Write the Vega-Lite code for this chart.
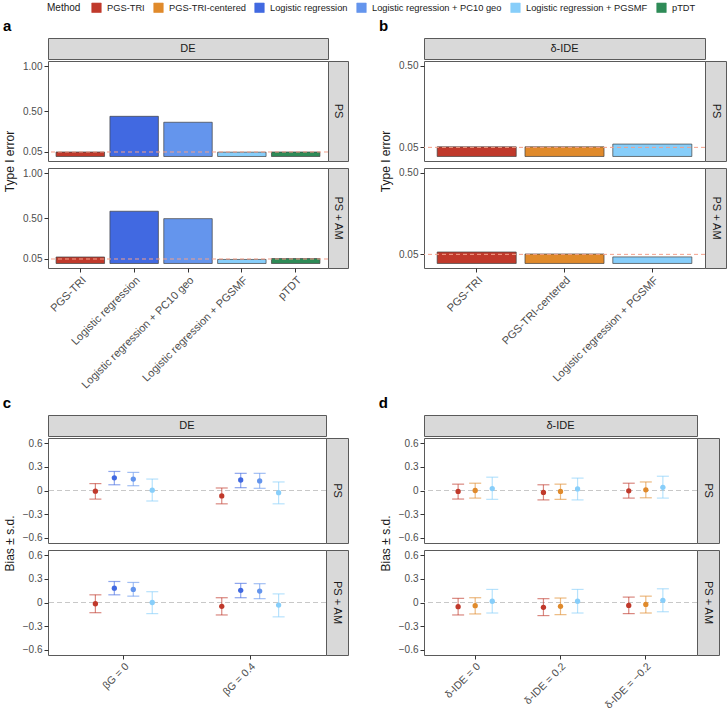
{
  "$schema": "https://vega.github.io/schema/vega-lite/v6.json",
  "padding": {"left": 2, "top": 2, "right": 0, "bottom": 0},
  "datasets": {
    "typeI": [
      {"effect": "DE", "model": "PS", "method": "PGS-TRI", "value": 0.050},
      {"effect": "DE", "model": "PS", "method": "Logistic regression", "value": 0.446},
      {"effect": "DE", "model": "PS", "method": "Logistic regression + PC10 geo", "value": 0.380},
      {"effect": "DE", "model": "PS", "method": "Logistic regression + PGSMF", "value": 0.048},
      {"effect": "DE", "model": "PS", "method": "pTDT", "value": 0.050},
      {"effect": "DE", "model": "PS + AM", "method": "PGS-TRI", "value": 0.072},
      {"effect": "DE", "model": "PS + AM", "method": "Logistic regression", "value": 0.580},
      {"effect": "DE", "model": "PS + AM", "method": "Logistic regression + PC10 geo", "value": 0.498},
      {"effect": "DE", "model": "PS + AM", "method": "Logistic regression + PGSMF", "value": 0.045},
      {"effect": "DE", "model": "PS + AM", "method": "pTDT", "value": 0.055},
      {"effect": "δ-IDE", "model": "PS", "method": "PGS-TRI", "value": 0.053},
      {"effect": "δ-IDE", "model": "PS", "method": "PGS-TRI-centered", "value": 0.053},
      {"effect": "δ-IDE", "model": "PS", "method": "Logistic regression + PGSMF", "value": 0.068},
      {"effect": "δ-IDE", "model": "PS + AM", "method": "PGS-TRI", "value": 0.063},
      {"effect": "δ-IDE", "model": "PS + AM", "method": "PGS-TRI-centered", "value": 0.052},
      {"effect": "δ-IDE", "model": "PS + AM", "method": "Logistic regression + PGSMF", "value": 0.036}
    ],
    "bias": [
      {"effect": "DE", "model": "PS", "setting": "βG = 0", "method": "PGS-TRI", "bias": -0.008, "lo": -0.110, "hi": 0.088},
      {"effect": "DE", "model": "PS", "setting": "βG = 0", "method": "Logistic regression", "bias": 0.162, "lo": 0.073, "hi": 0.243},
      {"effect": "DE", "model": "PS", "setting": "βG = 0", "method": "Logistic regression + PC10 geo", "bias": 0.146, "lo": 0.061, "hi": 0.231},
      {"effect": "DE", "model": "PS", "setting": "βG = 0", "method": "Logistic regression + PGSMF", "bias": 0.004, "lo": -0.134, "hi": 0.146},
      {"effect": "DE", "model": "PS", "setting": "βG = 0.4", "method": "PGS-TRI", "bias": -0.069, "lo": -0.170, "hi": 0.032},
      {"effect": "DE", "model": "PS", "setting": "βG = 0.4", "method": "Logistic regression", "bias": 0.134, "lo": 0.036, "hi": 0.219},
      {"effect": "DE", "model": "PS", "setting": "βG = 0.4", "method": "Logistic regression + PC10 geo", "bias": 0.122, "lo": 0.028, "hi": 0.219},
      {"effect": "DE", "model": "PS", "setting": "βG = 0.4", "method": "Logistic regression + PGSMF", "bias": -0.028, "lo": -0.170, "hi": 0.109},
      {"effect": "DE", "model": "PS + AM", "setting": "βG = 0", "method": "PGS-TRI", "bias": -0.016, "lo": -0.130, "hi": 0.098},
      {"effect": "DE", "model": "PS + AM", "setting": "βG = 0", "method": "Logistic regression", "bias": 0.183, "lo": 0.098, "hi": 0.268},
      {"effect": "DE", "model": "PS + AM", "setting": "βG = 0", "method": "Logistic regression + PC10 geo", "bias": 0.167, "lo": 0.081, "hi": 0.256},
      {"effect": "DE", "model": "PS + AM", "setting": "βG = 0", "method": "Logistic regression + PGSMF", "bias": 0.000, "lo": -0.142, "hi": 0.138},
      {"effect": "DE", "model": "PS + AM", "setting": "βG = 0.4", "method": "PGS-TRI", "bias": -0.049, "lo": -0.159, "hi": 0.061},
      {"effect": "DE", "model": "PS + AM", "setting": "βG = 0.4", "method": "Logistic regression", "bias": 0.155, "lo": 0.061, "hi": 0.244},
      {"effect": "DE", "model": "PS + AM", "setting": "βG = 0.4", "method": "Logistic regression + PC10 geo", "bias": 0.146, "lo": 0.049, "hi": 0.240},
      {"effect": "DE", "model": "PS + AM", "setting": "βG = 0.4", "method": "Logistic regression + PGSMF", "bias": -0.033, "lo": -0.183, "hi": 0.110},
      {"effect": "δ-IDE", "model": "PS", "setting": "δ-IDE = 0", "method": "PGS-TRI", "bias": -0.012, "lo": -0.109, "hi": 0.081},
      {"effect": "δ-IDE", "model": "PS", "setting": "δ-IDE = 0", "method": "PGS-TRI-centered", "bias": 0.000, "lo": -0.097, "hi": 0.093},
      {"effect": "δ-IDE", "model": "PS", "setting": "δ-IDE = 0", "method": "Logistic regression + PGSMF", "bias": 0.024, "lo": -0.113, "hi": 0.170},
      {"effect": "δ-IDE", "model": "PS", "setting": "δ-IDE = 0.2", "method": "PGS-TRI", "bias": -0.024, "lo": -0.120, "hi": 0.073},
      {"effect": "δ-IDE", "model": "PS", "setting": "δ-IDE = 0.2", "method": "PGS-TRI-centered", "bias": -0.012, "lo": -0.113, "hi": 0.081},
      {"effect": "δ-IDE", "model": "PS", "setting": "δ-IDE = 0.2", "method": "Logistic regression + PGSMF", "bias": 0.020, "lo": -0.120, "hi": 0.158},
      {"effect": "δ-IDE", "model": "PS", "setting": "δ-IDE = −0.2", "method": "PGS-TRI", "bias": -0.004, "lo": -0.097, "hi": 0.093},
      {"effect": "δ-IDE", "model": "PS", "setting": "δ-IDE = −0.2", "method": "PGS-TRI-centered", "bias": 0.008, "lo": -0.093, "hi": 0.109},
      {"effect": "δ-IDE", "model": "PS", "setting": "δ-IDE = −0.2", "method": "Logistic regression + PGSMF", "bias": 0.040, "lo": -0.097, "hi": 0.182},
      {"effect": "δ-IDE", "model": "PS + AM", "setting": "δ-IDE = 0", "method": "PGS-TRI", "bias": -0.053, "lo": -0.159, "hi": 0.053},
      {"effect": "δ-IDE", "model": "PS + AM", "setting": "δ-IDE = 0", "method": "PGS-TRI-centered", "bias": -0.041, "lo": -0.146, "hi": 0.061},
      {"effect": "δ-IDE", "model": "PS + AM", "setting": "δ-IDE = 0", "method": "Logistic regression + PGSMF", "bias": 0.016, "lo": -0.134, "hi": 0.167},
      {"effect": "δ-IDE", "model": "PS + AM", "setting": "δ-IDE = 0.2", "method": "PGS-TRI", "bias": -0.061, "lo": -0.167, "hi": 0.049},
      {"effect": "δ-IDE", "model": "PS + AM", "setting": "δ-IDE = 0.2", "method": "PGS-TRI-centered", "bias": -0.049, "lo": -0.155, "hi": 0.057},
      {"effect": "δ-IDE", "model": "PS + AM", "setting": "δ-IDE = 0.2", "method": "Logistic regression + PGSMF", "bias": 0.016, "lo": -0.134, "hi": 0.167},
      {"effect": "δ-IDE", "model": "PS + AM", "setting": "δ-IDE = −0.2", "method": "PGS-TRI", "bias": -0.037, "lo": -0.142, "hi": 0.069},
      {"effect": "δ-IDE", "model": "PS + AM", "setting": "δ-IDE = −0.2", "method": "PGS-TRI-centered", "bias": -0.024, "lo": -0.134, "hi": 0.081},
      {"effect": "δ-IDE", "model": "PS + AM", "setting": "δ-IDE = −0.2", "method": "Logistic regression + PGSMF", "bias": 0.028, "lo": -0.118, "hi": 0.175}
    ]
  },
  "columns": 2,
  "spacing": {"row": 4, "column": 29},
  "align": "each",
  "resolve": {"scale": {"x": "independent", "y": "independent", "xOffset": "independent"}},
  "concat": [
    {
      "title": {"text": "a"},
      "spacing": 0,
      "resolve": {"scale": {"x": "independent", "y": "independent", "xOffset": "independent"}},
      "vconcat": [
        {
          "width": 280, "height": 21,
          "view": {"fill": "#d9d9d9", "stroke": "#5a5a5a"},
          "layer": [{"data": {"values": [{"label": "DE"}]}, "mark": {"type": "text", "fontSize": 11, "color": "#1a1a1a"}, "encoding": {"text": {"field": "label"}}}]
        },
        {
          "columns": 2, "bounds": "flush", "align": "each",
          "spacing": {"row": 7, "column": 0},
          "resolve": {"scale": {"x": "independent", "y": "independent", "xOffset": "independent"}},
          "concat": [
            {
              "width": 280, "height": 100,
              "layer": [
                {
                  "data": {"name": "typeI"},
                  "transform": [{"filter": "datum.effect == 'DE' && datum.model == 'PS'"}],
                  "mark": {"type": "bar", "stroke": "#404040", "strokeWidth": 0.7},
                  "encoding": {
                    "x": {"field": "method", "type": "nominal", "sort": ["PGS-TRI", "Logistic regression", "Logistic regression + PC10 geo", "Logistic regression + PGSMF", "pTDT"], "scale": {"paddingInner": 0.1, "paddingOuter": 0.15}, "axis": null},
                    "y": {"field": "value", "type": "quantitative", "scale": {"domain": [-0.05, 1.06], "nice": false}, "axis": {"values": [0.05, 0.5, 1], "tickCount": 10, "format": ".2f", "title": "Type I error", "titleAnchor": "start", "titleAlign": "center"}},
                    "color": {"field": "method", "type": "nominal", "title": "Method", "scale": {"domain": ["PGS-TRI", "PGS-TRI-centered", "Logistic regression", "Logistic regression + PC10 geo", "Logistic regression + PGSMF", "pTDT"], "range": ["#c0392b", "#e08a2b", "#4169e1", "#6495ed", "#87cefa", "#2e8b57"]}, "legend": {"title": "Method", "orient": "none", "legendX": -1, "legendY": -36, "direction": "horizontal", "titleOrient": "left"}}
                  }
                },
                {
                  "data": {"values": [{"level": 0.05}]},
                  "mark": {"type": "rule", "color": "#f4a08a", "strokeDash": [4, 3], "strokeWidth": 1},
                  "encoding": {"y": {"field": "level", "type": "quantitative"}}
                }
              ]
            },
            {
              "width": 20, "height": 100,
              "view": {"fill": "#d9d9d9", "stroke": "#5a5a5a"},
              "layer": [{"data": {"values": [{"label": "PS"}]}, "mark": {"type": "text", "fontSize": 11, "angle": 90, "color": "#1a1a1a"}, "encoding": {"text": {"field": "label"}}}]
            },
            {
              "width": 280, "height": 100,
              "layer": [
                {
                  "data": {"name": "typeI"},
                  "transform": [{"filter": "datum.effect == 'DE' && datum.model == 'PS + AM'"}],
                  "mark": {"type": "bar", "stroke": "#404040", "strokeWidth": 0.7},
                  "encoding": {
                    "x": {"field": "method", "type": "nominal", "sort": ["PGS-TRI", "Logistic regression", "Logistic regression + PC10 geo", "Logistic regression + PGSMF", "pTDT"], "scale": {"paddingInner": 0.1, "paddingOuter": 0.15}, "axis": {"title": null, "labelAngle": -45}},
                    "y": {"field": "value", "type": "quantitative", "scale": {"domain": [-0.05, 1.06], "nice": false}, "axis": {"values": [0.05, 0.5, 1], "tickCount": 10, "format": ".2f", "title": null}},
                    "color": {"field": "method", "type": "nominal", "title": "Method"}
                  }
                },
                {
                  "data": {"values": [{"level": 0.05}]},
                  "mark": {"type": "rule", "color": "#f4a08a", "strokeDash": [4, 3], "strokeWidth": 1},
                  "encoding": {"y": {"field": "level", "type": "quantitative"}}
                }
              ]
            },
            {
              "width": 20, "height": 100,
              "view": {"fill": "#d9d9d9", "stroke": "#5a5a5a"},
              "layer": [{"data": {"values": [{"label": "PS + AM"}]}, "mark": {"type": "text", "fontSize": 11, "angle": 90, "color": "#1a1a1a"}, "encoding": {"text": {"field": "label"}}}]
            }
          ]
        }
      ]
    },
    {
      "title": {"text": "b"},
      "spacing": 0,
      "resolve": {"scale": {"x": "independent", "y": "independent", "xOffset": "independent"}},
      "vconcat": [
        {
          "width": 281, "height": 21,
          "view": {"fill": "#d9d9d9", "stroke": "#5a5a5a"},
          "layer": [{"data": {"values": [{"label": "δ-IDE"}]}, "mark": {"type": "text", "fontSize": 11, "color": "#1a1a1a"}, "encoding": {"text": {"field": "label"}}}]
        },
        {
          "columns": 2, "bounds": "flush", "align": "each",
          "spacing": {"row": 7, "column": 0},
          "resolve": {"scale": {"x": "independent", "y": "independent", "xOffset": "independent"}},
          "concat": [
            {
              "width": 281, "height": 100,
              "layer": [
                {
                  "data": {"name": "typeI"},
                  "transform": [{"filter": "datum.effect == 'δ-IDE' && datum.model == 'PS'"}],
                  "mark": {"type": "bar", "stroke": "#404040", "strokeWidth": 0.7},
                  "encoding": {
                    "x": {"field": "method", "type": "nominal", "sort": ["PGS-TRI", "PGS-TRI-centered", "Logistic regression + PGSMF"], "scale": {"paddingInner": 0.1, "paddingOuter": 0.15}, "axis": null},
                    "y": {"field": "value", "type": "quantitative", "scale": {"domain": [-0.025, 0.525], "nice": false}, "axis": {"values": [0.05, 0.5], "tickCount": 10, "format": ".2f", "title": "Type I error", "titleAnchor": "start", "titleAlign": "center"}},
                    "color": {"field": "method", "type": "nominal", "title": "Method"}
                  }
                },
                {
                  "data": {"values": [{"level": 0.05}]},
                  "mark": {"type": "rule", "color": "#f4a08a", "strokeDash": [4, 3], "strokeWidth": 1},
                  "encoding": {"y": {"field": "level", "type": "quantitative"}}
                }
              ]
            },
            {
              "width": 21, "height": 100,
              "view": {"fill": "#d9d9d9", "stroke": "#5a5a5a"},
              "layer": [{"data": {"values": [{"label": "PS"}]}, "mark": {"type": "text", "fontSize": 11, "angle": 90, "color": "#1a1a1a"}, "encoding": {"text": {"field": "label"}}}]
            },
            {
              "width": 281, "height": 100,
              "layer": [
                {
                  "data": {"name": "typeI"},
                  "transform": [{"filter": "datum.effect == 'δ-IDE' && datum.model == 'PS + AM'"}],
                  "mark": {"type": "bar", "stroke": "#404040", "strokeWidth": 0.7},
                  "encoding": {
                    "x": {"field": "method", "type": "nominal", "sort": ["PGS-TRI", "PGS-TRI-centered", "Logistic regression + PGSMF"], "scale": {"paddingInner": 0.1, "paddingOuter": 0.15}, "axis": {"title": null, "labelAngle": -45}},
                    "y": {"field": "value", "type": "quantitative", "scale": {"domain": [-0.025, 0.525], "nice": false}, "axis": {"values": [0.05, 0.5], "tickCount": 10, "format": ".2f", "title": null}},
                    "color": {"field": "method", "type": "nominal", "title": "Method"}
                  }
                },
                {
                  "data": {"values": [{"level": 0.05}]},
                  "mark": {"type": "rule", "color": "#f4a08a", "strokeDash": [4, 3], "strokeWidth": 1},
                  "encoding": {"y": {"field": "level", "type": "quantitative"}}
                }
              ]
            },
            {
              "width": 21, "height": 100,
              "view": {"fill": "#d9d9d9", "stroke": "#5a5a5a"},
              "layer": [{"data": {"values": [{"label": "PS + AM"}]}, "mark": {"type": "text", "fontSize": 11, "angle": 90, "color": "#1a1a1a"}, "encoding": {"text": {"field": "label"}}}]
            }
          ]
        }
      ]
    },
    {
      "title": {"text": "c"},
      "spacing": 0,
      "resolve": {"scale": {"x": "independent", "y": "independent", "xOffset": "independent"}},
      "vconcat": [
        {
          "width": 278, "height": 21,
          "view": {"fill": "#d9d9d9", "stroke": "#5a5a5a"},
          "layer": [{"data": {"values": [{"label": "DE"}]}, "mark": {"type": "text", "fontSize": 11, "color": "#1a1a1a"}, "encoding": {"text": {"field": "label"}}}]
        },
        {
          "columns": 2, "bounds": "flush", "align": "each",
          "spacing": {"row": 7, "column": 0},
          "resolve": {"scale": {"x": "independent", "y": "independent", "xOffset": "independent"}},
          "concat": [
            {
              "width": 278, "height": 105,
              "layer": [
                {
                  "data": {"values": [{"level": 0}]},
                  "mark": {"type": "rule", "color": "#c8c8c8", "strokeDash": [5, 3], "strokeWidth": 1},
                  "encoding": {"y": {"field": "level", "type": "quantitative", "scale": {"domain": [-0.67, 0.67], "nice": false}, "axis": {"values": [-0.6, -0.3, 0, 0.3, 0.6], "tickCount": 10, "format": ".1~f", "labelOverlap": false, "title": "Bias ± s.d.", "titleAnchor": "start", "titleAlign": "center"}}}
                },
                {
                  "data": {"name": "bias"},
                  "transform": [{"filter": "datum.effect == 'DE' && datum.model == 'PS'"}],
                  "encoding": {
                    "x": {"field": "setting", "type": "nominal", "sort": ["βG = 0", "βG = 0.4"], "scale": {"paddingInner": 0.4, "paddingOuter": 0.3}, "axis": null},
                    "xOffset": {"field": "method", "type": "nominal", "sort": ["PGS-TRI", "Logistic regression", "Logistic regression + PC10 geo", "Logistic regression + PGSMF"]},
                    "color": {"field": "method", "type": "nominal", "title": "Method"}
                  },
                  "layer": [
                    {"mark": {"type": "rule", "opacity": 0.6, "strokeWidth": 1.2}, "encoding": {"y": {"field": "lo", "type": "quantitative"}, "y2": {"field": "hi"}}},
                    {"mark": {"type": "tick", "opacity": 0.6, "size": 12, "thickness": 1.2}, "encoding": {"y": {"field": "lo", "type": "quantitative"}}},
                    {"mark": {"type": "tick", "opacity": 0.6, "size": 12, "thickness": 1.2}, "encoding": {"y": {"field": "hi", "type": "quantitative"}}},
                    {"mark": {"type": "circle", "opacity": 1, "size": 28}, "encoding": {"y": {"field": "bias", "type": "quantitative"}}}
                  ]
                }
              ]
            },
            {
              "width": 22, "height": 105,
              "view": {"fill": "#d9d9d9", "stroke": "#5a5a5a"},
              "layer": [{"data": {"values": [{"label": "PS"}]}, "mark": {"type": "text", "fontSize": 11, "angle": 90, "color": "#1a1a1a"}, "encoding": {"text": {"field": "label"}}}]
            },
            {
              "width": 278, "height": 105,
              "layer": [
                {
                  "data": {"values": [{"level": 0}]},
                  "mark": {"type": "rule", "color": "#c8c8c8", "strokeDash": [5, 3], "strokeWidth": 1},
                  "encoding": {"y": {"field": "level", "type": "quantitative", "scale": {"domain": [-0.67, 0.67], "nice": false}, "axis": {"values": [-0.6, -0.3, 0, 0.3, 0.6], "tickCount": 10, "format": ".1~f", "labelOverlap": false, "title": null}}}
                },
                {
                  "data": {"name": "bias"},
                  "transform": [{"filter": "datum.effect == 'DE' && datum.model == 'PS + AM'"}],
                  "encoding": {
                    "x": {"field": "setting", "type": "nominal", "sort": ["βG = 0", "βG = 0.4"], "scale": {"paddingInner": 0.4, "paddingOuter": 0.3}, "axis": {"title": null, "labelAngle": -45, "labelFontSize": 10.5}},
                    "xOffset": {"field": "method", "type": "nominal", "sort": ["PGS-TRI", "Logistic regression", "Logistic regression + PC10 geo", "Logistic regression + PGSMF"]},
                    "color": {"field": "method", "type": "nominal", "title": "Method"}
                  },
                  "layer": [
                    {"mark": {"type": "rule", "opacity": 0.6, "strokeWidth": 1.2}, "encoding": {"y": {"field": "lo", "type": "quantitative"}, "y2": {"field": "hi"}}},
                    {"mark": {"type": "tick", "opacity": 0.6, "size": 12, "thickness": 1.2}, "encoding": {"y": {"field": "lo", "type": "quantitative"}}},
                    {"mark": {"type": "tick", "opacity": 0.6, "size": 12, "thickness": 1.2}, "encoding": {"y": {"field": "hi", "type": "quantitative"}}},
                    {"mark": {"type": "circle", "opacity": 1, "size": 28}, "encoding": {"y": {"field": "bias", "type": "quantitative"}}}
                  ]
                }
              ]
            },
            {
              "width": 22, "height": 105,
              "view": {"fill": "#d9d9d9", "stroke": "#5a5a5a"},
              "layer": [{"data": {"values": [{"label": "PS + AM"}]}, "mark": {"type": "text", "fontSize": 11, "angle": 90, "color": "#1a1a1a"}, "encoding": {"text": {"field": "label"}}}]
            }
          ]
        }
      ]
    },
    {
      "title": {"text": "d"},
      "spacing": 0,
      "resolve": {"scale": {"x": "independent", "y": "independent", "xOffset": "independent"}},
      "vconcat": [
        {
          "width": 273, "height": 21,
          "view": {"fill": "#d9d9d9", "stroke": "#5a5a5a"},
          "layer": [{"data": {"values": [{"label": "δ-IDE"}]}, "mark": {"type": "text", "fontSize": 11, "color": "#1a1a1a"}, "encoding": {"text": {"field": "label"}}}]
        },
        {
          "columns": 2, "bounds": "flush", "align": "each",
          "spacing": {"row": 7, "column": 0},
          "resolve": {"scale": {"x": "independent", "y": "independent", "xOffset": "independent"}},
          "concat": [
            {
              "width": 273, "height": 105,
              "layer": [
                {
                  "data": {"values": [{"level": 0}]},
                  "mark": {"type": "rule", "color": "#c8c8c8", "strokeDash": [5, 3], "strokeWidth": 1},
                  "encoding": {"y": {"field": "level", "type": "quantitative", "scale": {"domain": [-0.67, 0.67], "nice": false}, "axis": {"values": [-0.6, -0.3, 0, 0.3, 0.6], "tickCount": 10, "format": ".1~f", "labelOverlap": false, "title": "Bias ± s.d.", "titleAnchor": "start", "titleAlign": "center"}}}
                },
                {
                  "data": {"name": "bias"},
                  "transform": [{"filter": "datum.effect == 'δ-IDE' && datum.model == 'PS'"}],
                  "encoding": {
                    "x": {"field": "setting", "type": "nominal", "sort": ["δ-IDE = 0", "δ-IDE = 0.2", "δ-IDE = −0.2"], "scale": {"paddingInner": 0.4, "paddingOuter": 0.3}, "axis": null},
                    "xOffset": {"field": "method", "type": "nominal", "sort": ["PGS-TRI", "PGS-TRI-centered", "Logistic regression + PGSMF"]},
                    "color": {"field": "method", "type": "nominal", "title": "Method"}
                  },
                  "layer": [
                    {"mark": {"type": "rule", "opacity": 0.6, "strokeWidth": 1.2}, "encoding": {"y": {"field": "lo", "type": "quantitative"}, "y2": {"field": "hi"}}},
                    {"mark": {"type": "tick", "opacity": 0.6, "size": 12, "thickness": 1.2}, "encoding": {"y": {"field": "lo", "type": "quantitative"}}},
                    {"mark": {"type": "tick", "opacity": 0.6, "size": 12, "thickness": 1.2}, "encoding": {"y": {"field": "hi", "type": "quantitative"}}},
                    {"mark": {"type": "circle", "opacity": 1, "size": 28}, "encoding": {"y": {"field": "bias", "type": "quantitative"}}}
                  ]
                }
              ]
            },
            {
              "width": 22, "height": 105,
              "view": {"fill": "#d9d9d9", "stroke": "#5a5a5a"},
              "layer": [{"data": {"values": [{"label": "PS"}]}, "mark": {"type": "text", "fontSize": 11, "angle": 90, "color": "#1a1a1a"}, "encoding": {"text": {"field": "label"}}}]
            },
            {
              "width": 273, "height": 105,
              "layer": [
                {
                  "data": {"values": [{"level": 0}]},
                  "mark": {"type": "rule", "color": "#c8c8c8", "strokeDash": [5, 3], "strokeWidth": 1},
                  "encoding": {"y": {"field": "level", "type": "quantitative", "scale": {"domain": [-0.67, 0.67], "nice": false}, "axis": {"values": [-0.6, -0.3, 0, 0.3, 0.6], "tickCount": 10, "format": ".1~f", "labelOverlap": false, "title": null}}}
                },
                {
                  "data": {"name": "bias"},
                  "transform": [{"filter": "datum.effect == 'δ-IDE' && datum.model == 'PS + AM'"}],
                  "encoding": {
                    "x": {"field": "setting", "type": "nominal", "sort": ["δ-IDE = 0", "δ-IDE = 0.2", "δ-IDE = −0.2"], "scale": {"paddingInner": 0.4, "paddingOuter": 0.3}, "axis": {"title": null, "labelAngle": -45, "labelFontSize": 10.5}},
                    "xOffset": {"field": "method", "type": "nominal", "sort": ["PGS-TRI", "PGS-TRI-centered", "Logistic regression + PGSMF"]},
                    "color": {"field": "method", "type": "nominal", "title": "Method"}
                  },
                  "layer": [
                    {"mark": {"type": "rule", "opacity": 0.6, "strokeWidth": 1.2}, "encoding": {"y": {"field": "lo", "type": "quantitative"}, "y2": {"field": "hi"}}},
                    {"mark": {"type": "tick", "opacity": 0.6, "size": 12, "thickness": 1.2}, "encoding": {"y": {"field": "lo", "type": "quantitative"}}},
                    {"mark": {"type": "tick", "opacity": 0.6, "size": 12, "thickness": 1.2}, "encoding": {"y": {"field": "hi", "type": "quantitative"}}},
                    {"mark": {"type": "circle", "opacity": 1, "size": 28}, "encoding": {"y": {"field": "bias", "type": "quantitative"}}}
                  ]
                }
              ]
            },
            {
              "width": 22, "height": 105,
              "view": {"fill": "#d9d9d9", "stroke": "#5a5a5a"},
              "layer": [{"data": {"values": [{"label": "PS + AM"}]}, "mark": {"type": "text", "fontSize": 11, "angle": 90, "color": "#1a1a1a"}, "encoding": {"text": {"field": "label"}}}]
            }
          ]
        }
      ]
    }
  ],
  "config": {
    "font": "Liberation Sans",
    "view": {"stroke": "#5a5a5a", "strokeWidth": 1},
    "axis": {"grid": false, "domain": false, "tickColor": "#333333", "tickSize": 4, "labelColor": "#4d4d4d", "labelFontSize": 10, "labelPadding": 2, "titleFontSize": 12, "titleFontWeight": "normal", "titleColor": "#1a1a1a", "titlePadding": 6},
    "axisX": {"labelFontSize": 11},
    "title": {"fontSize": 15, "fontWeight": "bold", "anchor": "start", "frame": "bounds", "offset": 4, "color": "#000000"},
    "legend": {
      "direction": "horizontal", "titleOrient": "left",
      "titleFontSize": 10, "titleFontWeight": "normal", "titleColor": "#1a1a1a", "titlePadding": 10,
      "labelFontSize": 9.3, "labelColor": "#1a1a1a", "labelOffset": 5, "columnPadding": 7,
      "symbolType": "square", "symbolSize": 90, "symbolOpacity": 1, "symbolStrokeColor": "#555555", "symbolStrokeWidth": 0.6
    }
  }
}
